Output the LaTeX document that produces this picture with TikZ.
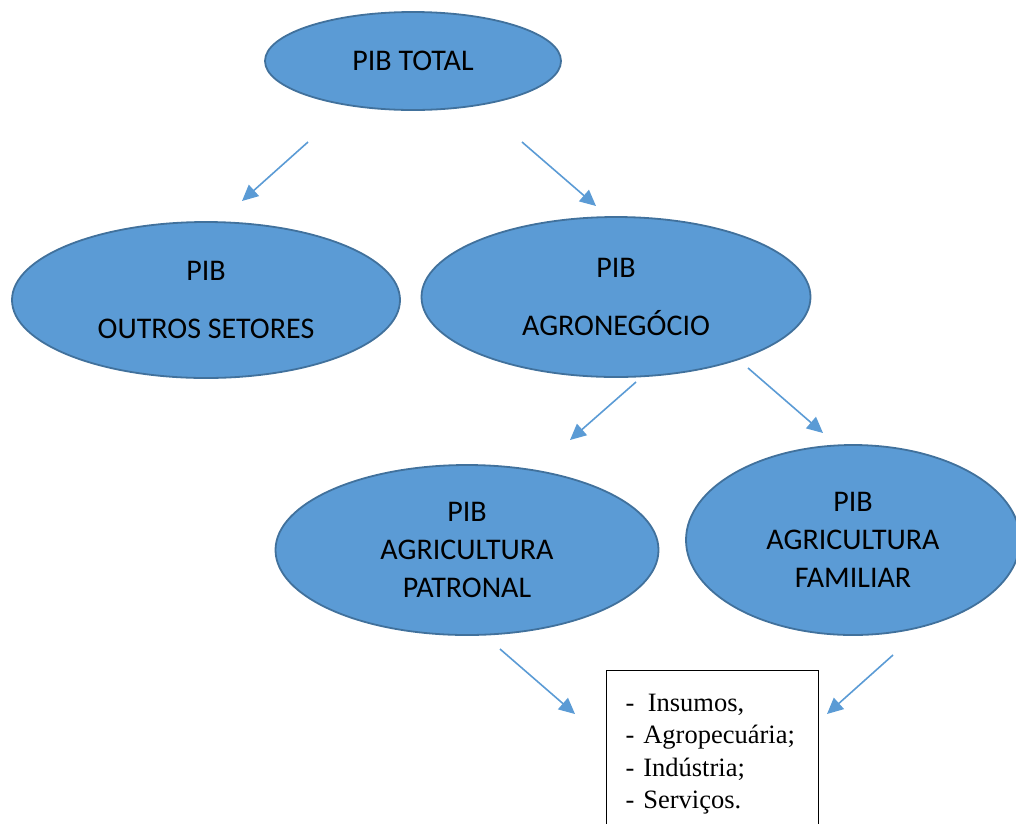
\documentclass[tikz,border=0pt]{standalone}
\usepackage{fontspec}
\setmainfont{Carlito}
\newfontfamily\listfont{Liberation Serif}
\usetikzlibrary{shapes.geometric,arrows.meta}

\definecolor{ovalblue}{HTML}{5B9BD5}
\definecolor{ovalline}{HTML}{41719C}

\begin{document}
\begin{tikzpicture}[x=1pt, y=-1pt,
  main node/.style={ellipse, draw=ovalline, fill=ovalblue, line width=1.8pt,
    inner sep=0pt, align=center, font=\fontsize{30}{38}\selectfont},
  list node/.style={draw, line width=1.4pt, anchor=north west, align=left,
    text width=174pt, inner xsep=19pt, inner ysep=23pt,
    font=\listfont\fontsize{26.5}{32.5}\selectfont},
  arr/.style={-{Triangle[length=16pt,width=15pt]}, color=ovalblue, line width=1.6pt}]
\clip (0,0) rectangle (1016,823);

\node[main node, minimum width=296pt, minimum height=98pt]  (total)    at (413,61)  {PIB TOTAL};
\node[main node, minimum width=388pt, minimum height=156pt] (outros)   at (206,300) {PIB\\[20pt]OUTROS SETORES};
\node[main node, minimum width=389pt, minimum height=160pt] (agro)     at (616,297) {PIB\\[20pt]AGRONEG\'OCIO};
\node[main node, minimum width=383pt, minimum height=170pt] (patronal) at (467,550) {PIB\\AGRICULTURA\\PATRONAL};
\node[main node, minimum width=334pt, minimum height=190pt] (familiar) at (853,540) {PIB\\AGRICULTURA\\FAMILIAR};
\node[list node] (setores) at (606,670) {-~\,Insumos,\\-~Agropecu\'aria;\\-~Ind\'ustria;\\-~Servi\c{c}os.};

% free ends of the arrows
\coordinate (t1) at (308,142); \coordinate (h1) at (242,201);
\coordinate (t2) at (522,142); \coordinate (h2) at (596,206);
\coordinate (t3) at (636,382); \coordinate (h3) at (570,440);
\coordinate (t4) at (748,368); \coordinate (h4) at (823,433);
\coordinate (t5) at (500,649); \coordinate (h5) at (575,714);
\coordinate (t6) at (893,655); \coordinate (h6) at (827,714);

\path
(t1) edge[arr] (h1)
(t2) edge[arr] (h2)
(t3) edge[arr] (h3)
(t4) edge[arr] (h4)
(t5) edge[arr] (h5)
(t6) edge[arr] (h6)
;
\end{tikzpicture}
\end{document}
